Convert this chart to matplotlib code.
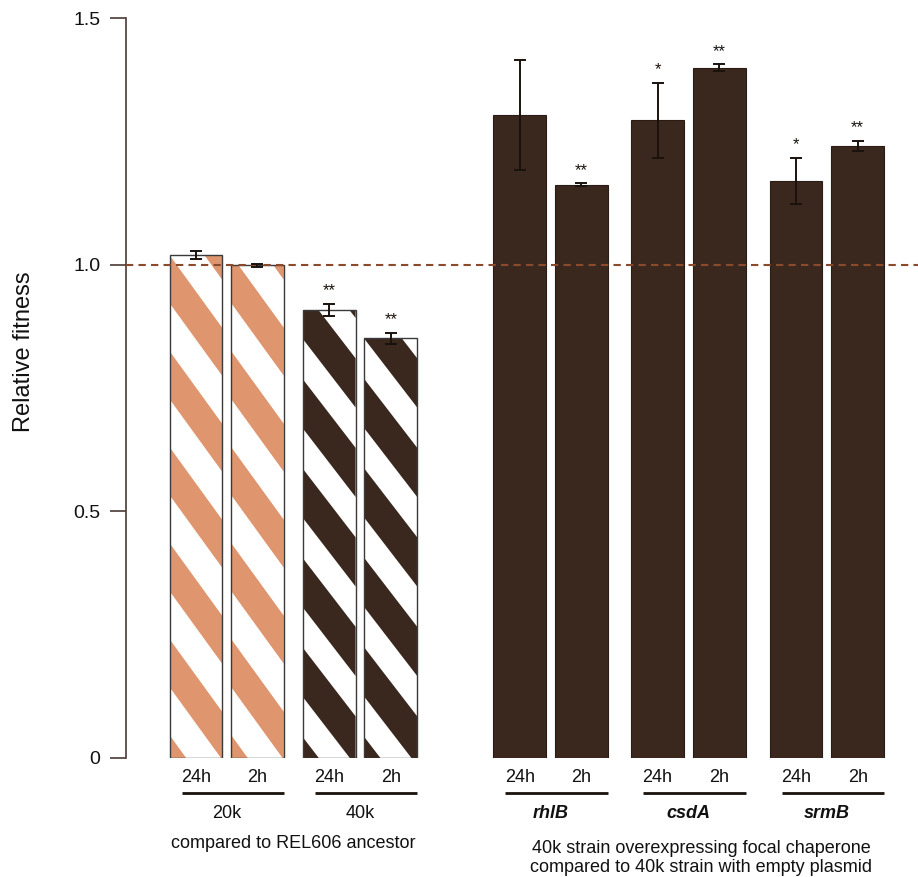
import matplotlib
matplotlib.use("Agg")
import matplotlib.pyplot as plt
from matplotlib.patches import Polygon, Rectangle
import numpy as np

plt.rcParams['font.family'] = ['Liberation Sans', 'DejaVu Sans']

# ---------------- data ----------------
conditions = ["24h", "2h", "24h", "2h", "24h", "2h", "24h", "2h", "24h", "2h"]
strains = ["20k", "40k", "rhlB", "csdA", "srmB"]
fitness = [1.020, 0.999, 0.908, 0.851, 1.303, 1.162, 1.293, 1.399, 1.170, 1.241]
fitness_err = [0.008, 0.003, 0.013, 0.011, 0.111, 0.003, 0.076, 0.007, 0.047, 0.010]
significance = ["", "", "**", "**", "", "**", "*", "**", "*", "**"]
ytick_vals = [0, 0.5, 1.0, 1.5]
ytick_labels = ["0", "0.5", "1.0", "1.5"]
reference_level = 1.0
left_caption = "compared to REL606 ancestor"
right_caption = "40k strain overexpressing focal chaperone\ncompared to 40k strain with empty plasmid"

# ---------------- style ----------------
ORANGE = "#DF966E"
DARK = "#3A281E"
AXCOL = "#4a3b33"
REFCOL = "#8B4A2B"
ERRCOL = "#1a120c"

W, H = 918, 877
fig = plt.figure(figsize=(W / 100, H / 100), dpi=100)
ax = fig.add_axes([126 / W, (H - 758) / H, 1 - 126 / W, (758 - 18) / H])

pair_starts = [0, 2.1, 5.1, 7.27, 9.45]
pair_offset = 0.97
x = np.array([s + o for s in pair_starts for o in (0, pair_offset)])
width = 0.83
ax.set_xlim(-1.10, 11.37)
ax.set_ylim(0, 1.5)

# pixel scale factors
p0 = ax.transData.transform((0, 0))
p1 = ax.transData.transform((1, 1))
sx = p1[0] - p0[0]
sy = p1[1] - p0[1]

# hatch style for first four bars: (color, period px, phase px, slope, band fraction)
hatch_styles = [(ORANGE, 96, 71, 1.38, 0.5), (ORANGE, 96, 71, 1.38, 0.5),
                (DARK, 89.5, 61, 1.3, 0.55), (DARK, 89.5, 61, 1.3, 0.55)]


def add_stripes(xl, w, h, color, period, phase, slope, frac):
    rect = Rectangle((xl, 0), w, h, facecolor="white", edgecolor="none", zorder=2)
    ax.add_patch(rect)
    wpx = w * sx
    hpx = h * sy
    k0 = int(np.floor(-phase / period)) - 2
    k1 = int(np.ceil((hpx + slope * wpx - phase) / period)) + 2
    for k in range(k0, k1 + 1):
        a = phase + k * period
        b = a + period * frac
        verts = [(xl, a / sy), (xl + w, (a - slope * wpx) / sy),
                 (xl + w, (b - slope * wpx) / sy), (xl, b / sy)]
        poly = Polygon(verts, closed=True, facecolor=color, edgecolor="none", zorder=3)
        ax.add_patch(poly)
        poly.set_clip_path(rect)


for i in range(len(fitness)):
    xl = x[i] - width / 2
    if i < 4:
        c, per, ph, sl, fr = hatch_styles[i]
        add_stripes(xl, width, fitness[i], c, per, ph, sl, fr)
        ax.bar(x[i], fitness[i], width=width, fill=False, edgecolor="#3a3a3a",
               linewidth=1.0, zorder=4)
    else:
        ax.bar(x[i], fitness[i], width=width, color=DARK, edgecolor="#2a1c14",
               linewidth=0.8, zorder=4)

ax.errorbar(x, fitness, yerr=fitness_err, fmt="none", ecolor=ERRCOL,
            elinewidth=1.4, capsize=4.5, capthick=1.4, zorder=6)

for i, s in enumerate(significance):
    if s:
        top = fitness[i] + fitness_err[i]
        ax.text(x[i], top + 13 / sy, s, ha="center", va="center", fontsize=12,
                color="#1a120c", zorder=7)

ax.axhline(reference_level, color=REFCOL, lw=1.5, dashes=(3.5, 2.5), zorder=5)

# axes styling
for sp in ["top", "right", "bottom"]:
    ax.spines[sp].set_visible(False)
ax.spines["left"].set_color(AXCOL)
ax.spines["left"].set_linewidth(1.2)
ax.set_xticks([])
ax.set_yticks(ytick_vals)
ax.set_yticklabels(ytick_labels)
ax.tick_params(axis="y", length=11.5, width=1.2, color=AXCOL, pad=7, labelsize=14,
               labelcolor="#111111")
ax.yaxis.get_major_ticks()[2].tick1line.set_color(REFCOL)

fig.text(24 / W, 1 - 352 / H, "Relative fitness", rotation=90, ha="center",
         va="center", fontsize=17, color="#111111")

# below-axis labels
def ypx(px):
    return -(px - 758) / sy

for i, c in enumerate(conditions):
    ax.text(x[i], ypx(778), c, ha="center", va="center", fontsize=13,
            color="#111111", clip_on=False)

for g, name in enumerate(strains):
    i0, i1 = 2 * g, 2 * g + 1
    xl = x[i0] - width / 2 + 0.19
    xr = x[i1] + width / 2
    ax.plot([xl, xr], [ypx(793), ypx(793)], color=ERRCOL, lw=2.0, clip_on=False,
            solid_capstyle="butt")
    mid = (x[i0] - width / 2 + x[i1] + width / 2) / 2
    if g < 2:
        ax.text(mid, ypx(813), name, ha="center", va="center", fontsize=13,
                color="#111111", clip_on=False)
    else:
        ax.text(mid, ypx(813), name, ha="center", va="center", fontsize=13,
                style="italic", fontweight="bold", color="#111111", clip_on=False)

left_mid = (x[0] - width / 2 + x[3] + width / 2) / 2
ax.text(left_mid, ypx(843), left_caption, ha="center", va="center", fontsize=13,
        color="#111111", clip_on=False)
right_mid = (x[4] - width / 2 + x[9] + width / 2) / 2 + 0.2
ax.text(right_mid, ypx(858), right_caption, ha="center", va="center", fontsize=13,
        color="#111111", clip_on=False, linespacing=1.15, multialignment="center")

fig.savefig("out.png", dpi=100)
